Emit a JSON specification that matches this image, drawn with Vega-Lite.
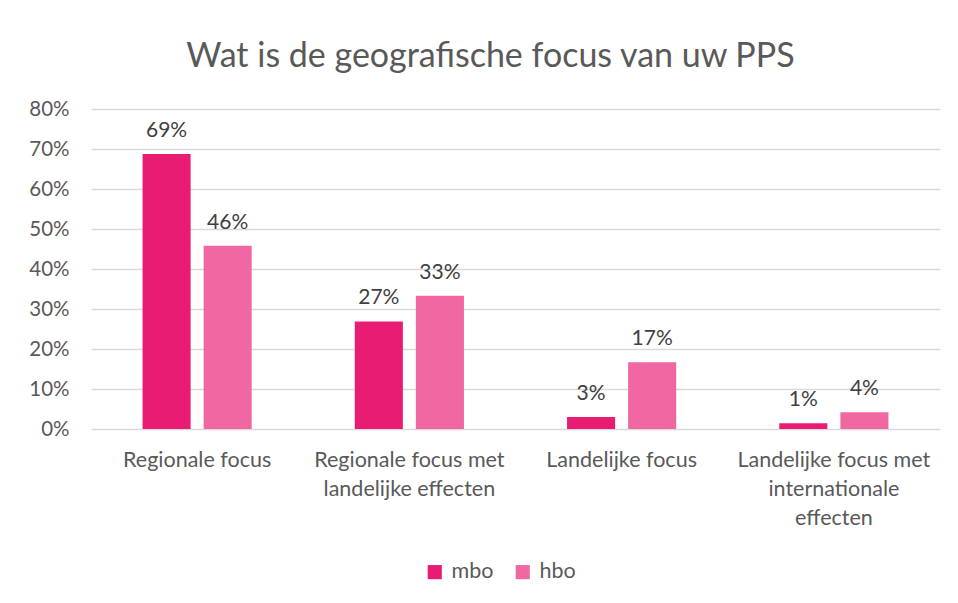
{
  "$schema": "https://vega.github.io/schema/vega-lite/v6.json",
  "width": 849,
  "height": 320,
  "autosize": {"type": "none"},
  "padding": {"left": 91, "top": 109, "right": 18, "bottom": 174},
  "background": "white",
  "title": {
    "text": "Wat is de geografische focus van uw PPS",
    "font": "Lato",
    "fontSize": 34,
    "fontWeight": "normal",
    "color": "#595959",
    "anchor": "middle",
    "dx": -25,
    "offset": 25
  },
  "data": {
    "values": [
      {"cat": "Regionale focus", "group": "mbo", "value": 0.6875},
      {"cat": "Regionale focus", "group": "hbo", "value": 0.458},
      {"cat": "Regionale focus met|landelijke effecten", "group": "mbo", "value": 0.269},
      {"cat": "Regionale focus met|landelijke effecten", "group": "hbo", "value": 0.333},
      {"cat": "Landelijke focus", "group": "mbo", "value": 0.03},
      {"cat": "Landelijke focus", "group": "hbo", "value": 0.167},
      {"cat": "Landelijke focus met|internationale|effecten", "group": "mbo", "value": 0.0145},
      {"cat": "Landelijke focus met|internationale|effecten", "group": "hbo", "value": 0.042}
    ]
  },
  "encoding": {
    "x": {
      "field": "cat",
      "type": "nominal",
      "sort": ["Regionale focus", "Regionale focus met|landelijke effecten", "Landelijke focus", "Landelijke focus met|internationale|effecten"],
      "scale": {"paddingInner": 0, "paddingOuter": 0},
      "axis": {
        "title": null,
        "labelAngle": 0,
        "labelExpr": "split(datum.label, '|')",
        "labelFont": "Lato",
        "labelFontSize": 21.5,
        "labelColor": "#595959",
        "labelLineHeight": 29,
        "labelPadding": 20,
        "labelBaseline": "top",
        "labelLimit": 0,
        "domain": false,
        "ticks": false,
        "grid": false
      }
    },
    "xOffset": {
      "field": "group",
      "type": "nominal",
      "sort": ["mbo", "hbo"],
      "scale": {"paddingInner": 0.213, "paddingOuter": 0.844}
    },
    "y": {
      "field": "value",
      "type": "quantitative",
      "scale": {"domain": [0, 0.8], "nice": false},
      "axis": {
        "title": null,
        "format": ".0%",
        "values": [0, 0.1, 0.2, 0.3, 0.4, 0.5, 0.6, 0.7, 0.8],
        "labelFont": "Lato",
        "labelFontSize": 20.5,
        "labelColor": "#595959",
        "labelPadding": 22,
        "domain": false,
        "ticks": false,
        "grid": true,
        "gridColor": "#d9d9d9",
        "gridWidth": 1.3
      }
    }
  },
  "layer": [
    {
      "mark": {"type": "bar"},
      "encoding": {
        "color": {
          "field": "group",
          "type": "nominal",
          "sort": ["mbo", "hbo"],
          "scale": {"domain": ["mbo", "hbo"], "range": ["#E91C74", "#F067A2"]},
          "legend": {
            "title": null,
            "orient": "none",
            "legendX": 333,
            "legendY": 452,
            "direction": "horizontal",
            "symbolType": "square",
            "symbolSize": 200,
            "symbolStrokeWidth": 0,
            "symbolOpacity": 1,
            "labelFont": "Lato",
            "labelFontSize": 21.5,
            "labelColor": "#595959",
            "columnPadding": 18,
            "labelOffset": 6
          }
        }
      }
    },
    {
      "mark": {"type": "text", "baseline": "bottom", "dy": -13, "font": "Lato", "fontSize": 21, "color": "#404040"},
      "encoding": {
        "text": {"field": "value", "type": "quantitative", "format": ".0%"}
      }
    }
  ],
  "config": {
    "view": {"stroke": null}
  }
}
